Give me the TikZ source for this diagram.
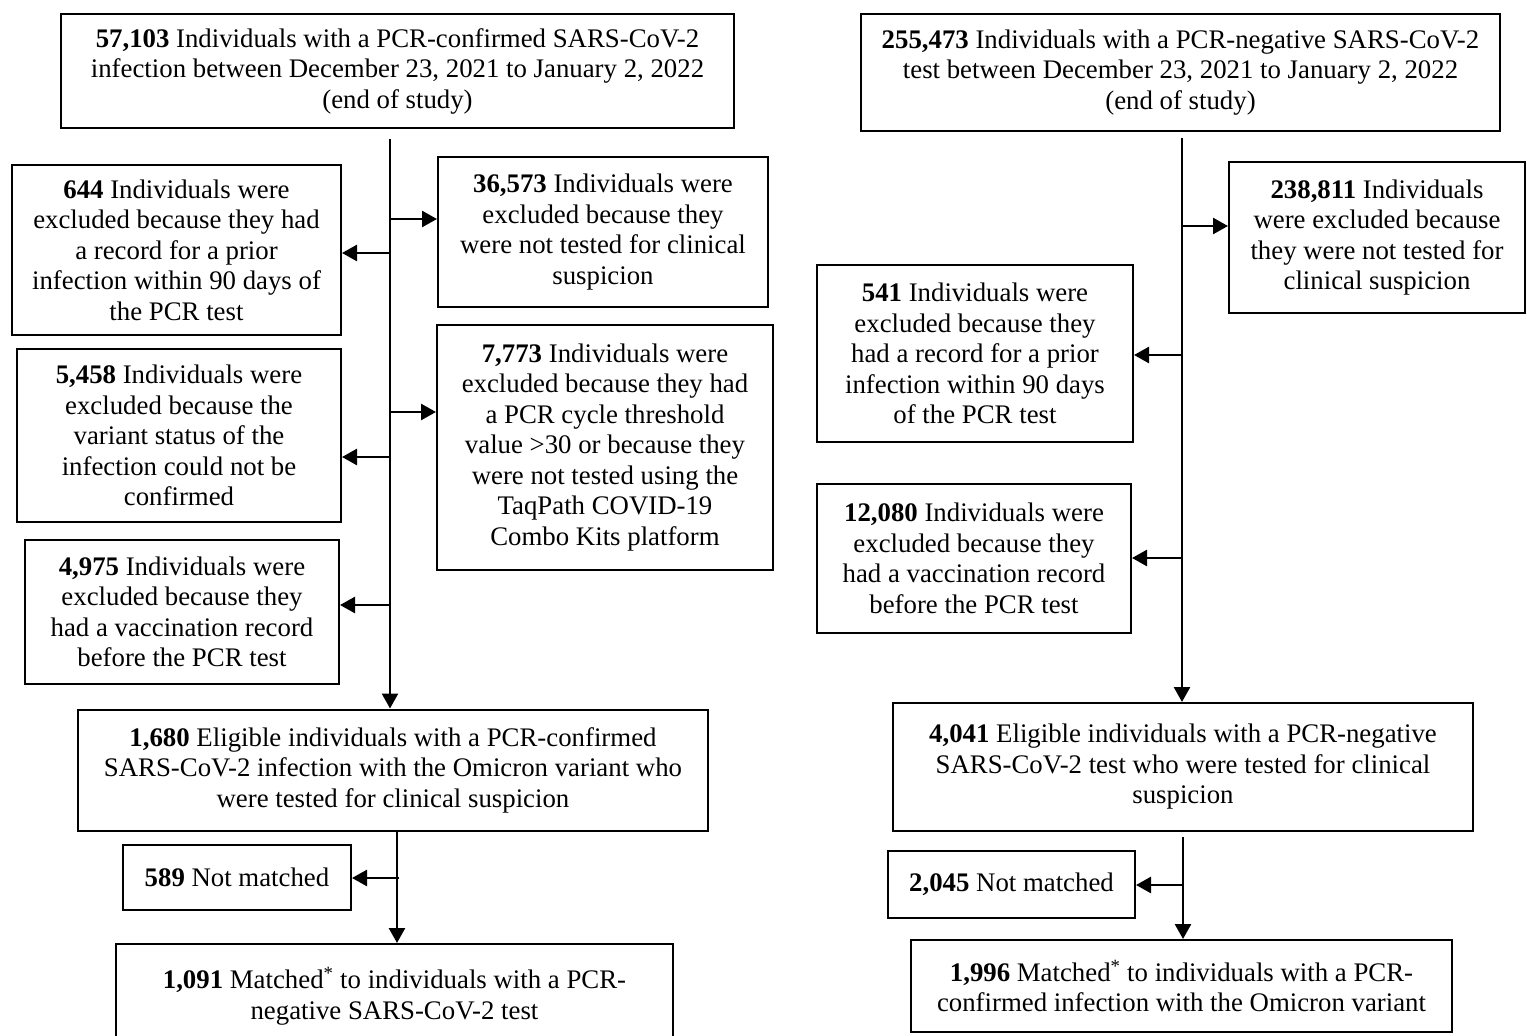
\documentclass[tikz,border=0pt]{standalone}
\usepackage{fontspec}
\setmainfont{Liberation Serif}
\usetikzlibrary{arrows.meta}
\begin{document}
\begin{tikzpicture}[x=1pt,y=-1pt,
  box/.style={draw, line width=2pt, align=center, inner sep=0pt,
    font=\fontsize{26.8pt}{30.5pt}\selectfont},
  arr/.style={line width=2.6pt, -{Triangle[length=15pt,width=16pt]}}]
\useasboundingbox[clip] (0,0) rectangle (1527,1036);
% left column
\node[box, minimum width=673pt, minimum height=114pt] (A1) at (397.5,71) {\textbf{57,103} Individuals with a PCR-confirmed SARS-CoV-2\\infection between December 23, 2021 to January 2, 2022\\(end of study)};
\node[box, minimum width=329pt, minimum height=170pt] (L1) at (176.5,250) {\textbf{644} Individuals were\\excluded because they had\\a record for a prior\\infection within 90 days of\\the PCR test};
\node[box, minimum width=330pt, minimum height=150pt] (R1) at (603,232) {\textbf{36,573} Individuals were\\excluded because they\\were not tested for clinical\\suspicion};
\node[box, minimum width=324pt, minimum height=173pt] (L2) at (179,435.5) {\textbf{5,458} Individuals were\\excluded because the\\variant status of the\\infection could not be\\confirmed};
\node[box, minimum width=336pt, minimum height=245pt] (R2) at (605,447.5) {\textbf{7,773} Individuals were\\excluded because they had\\a PCR cycle threshold\\value >30 or because they\\were not tested using the\\TaqPath COVID-19\\Combo Kits platform};
\node[box, minimum width=314pt, minimum height=144pt] (L3) at (182,612) {\textbf{4,975} Individuals were\\excluded because they\\had a vaccination record\\before the PCR test};
\node[box, minimum width=630pt, minimum height=121pt] (C1) at (393,770) {\textbf{1,680} Eligible individuals with a PCR-confirmed\\SARS-CoV-2 infection with the Omicron variant who\\were tested for clinical suspicion};
\node[box, minimum width=228pt, minimum height=65pt] (N1) at (237,877.5) {\textbf{589} Not matched};
\node[box, minimum width=557pt, minimum height=104pt] (D1) at (394.5,996) {\textbf{1,091} Matched\textsuperscript{*} to individuals with a PCR-\\negative SARS-CoV-2 test};
% right column
\node[box, minimum width=639pt, minimum height=117pt] (B1) at (1180.5,72.5) {\textbf{255,473} Individuals with a PCR-negative SARS-CoV-2\\test between December 23, 2021 to January 2, 2022\\(end of study)};
\node[box, minimum width=296pt, minimum height=151pt] (R3) at (1377,237.5) {\textbf{238,811} Individuals\\were excluded because\\they were not tested for\\clinical suspicion};
\node[box, minimum width=316pt, minimum height=177pt] (L4) at (975,353.5) {\textbf{541} Individuals were\\excluded because they\\had a record for a prior\\infection within 90 days\\of the PCR test};
\node[box, minimum width=314pt, minimum height=149pt] (L5) at (974,558.5) {\textbf{12,080} Individuals were\\excluded because they\\had a vaccination record\\before the PCR test};
\node[box, minimum width=580pt, minimum height=128pt] (C2) at (1183,767) {\textbf{4,041} Eligible individuals with a PCR-negative\\SARS-CoV-2 test who were tested for clinical\\suspicion};
\node[box, minimum width=247pt, minimum height=67pt] (N2) at (1011.5,884.5) {\textbf{2,045} Not matched};
\node[box, minimum width=541pt, minimum height=92pt] (D2) at (1181.5,986) {\textbf{1,996} Matched\textsuperscript{*} to individuals with a PCR-\\confirmed infection with the Omicron variant};
% trunk coordinates
\coordinate (ta) at (390,0);
\coordinate (tb) at (397,0);
\coordinate (tc) at (1182,0);
\coordinate (td) at (1183,0);
% left trunks
\draw[arr, shorten <=10pt] (A1.south -| ta) -- (C1.north -| ta);
\coordinate (a1) at (390,219);
\coordinate (a2) at (390,253);
\coordinate (a3) at (390,412);
\coordinate (a4) at (390,457);
\coordinate (a5) at (390,605);
\draw[arr] (a1) -- (a1 -| R1.west);
\draw[arr] (a2) -- (a2 -| L1.east);
\draw[arr] (a3) -- (a3 -| R2.west);
\draw[arr] (a4) -- (a4 -| L2.east);
\draw[arr] (a5) -- (a5 -| L3.east);
\draw[arr] (C1.south -| tb) -- (D1.north -| tb);
\coordinate (b1) at (399,878);
\draw[arr] (b1) -- (b1 -| N1.east);
% right trunks
\draw[arr, shorten <=6pt] (B1.south -| tc) -- (C2.north -| tc);
\coordinate (c1) at (1182,226);
\coordinate (c2) at (1182,355);
\coordinate (c3) at (1182,558);
\draw[arr] (c1) -- (c1 -| R3.west);
\draw[arr] (c2) -- (c2 -| L4.east);
\draw[arr] (c3) -- (c3 -| L5.east);
\draw[arr, shorten <=5pt] (C2.south -| td) -- (D2.north -| td);
\coordinate (d1) at (1183,885);
\draw[arr] (d1) -- (d1 -| N2.east);
\end{tikzpicture}
\end{document}
